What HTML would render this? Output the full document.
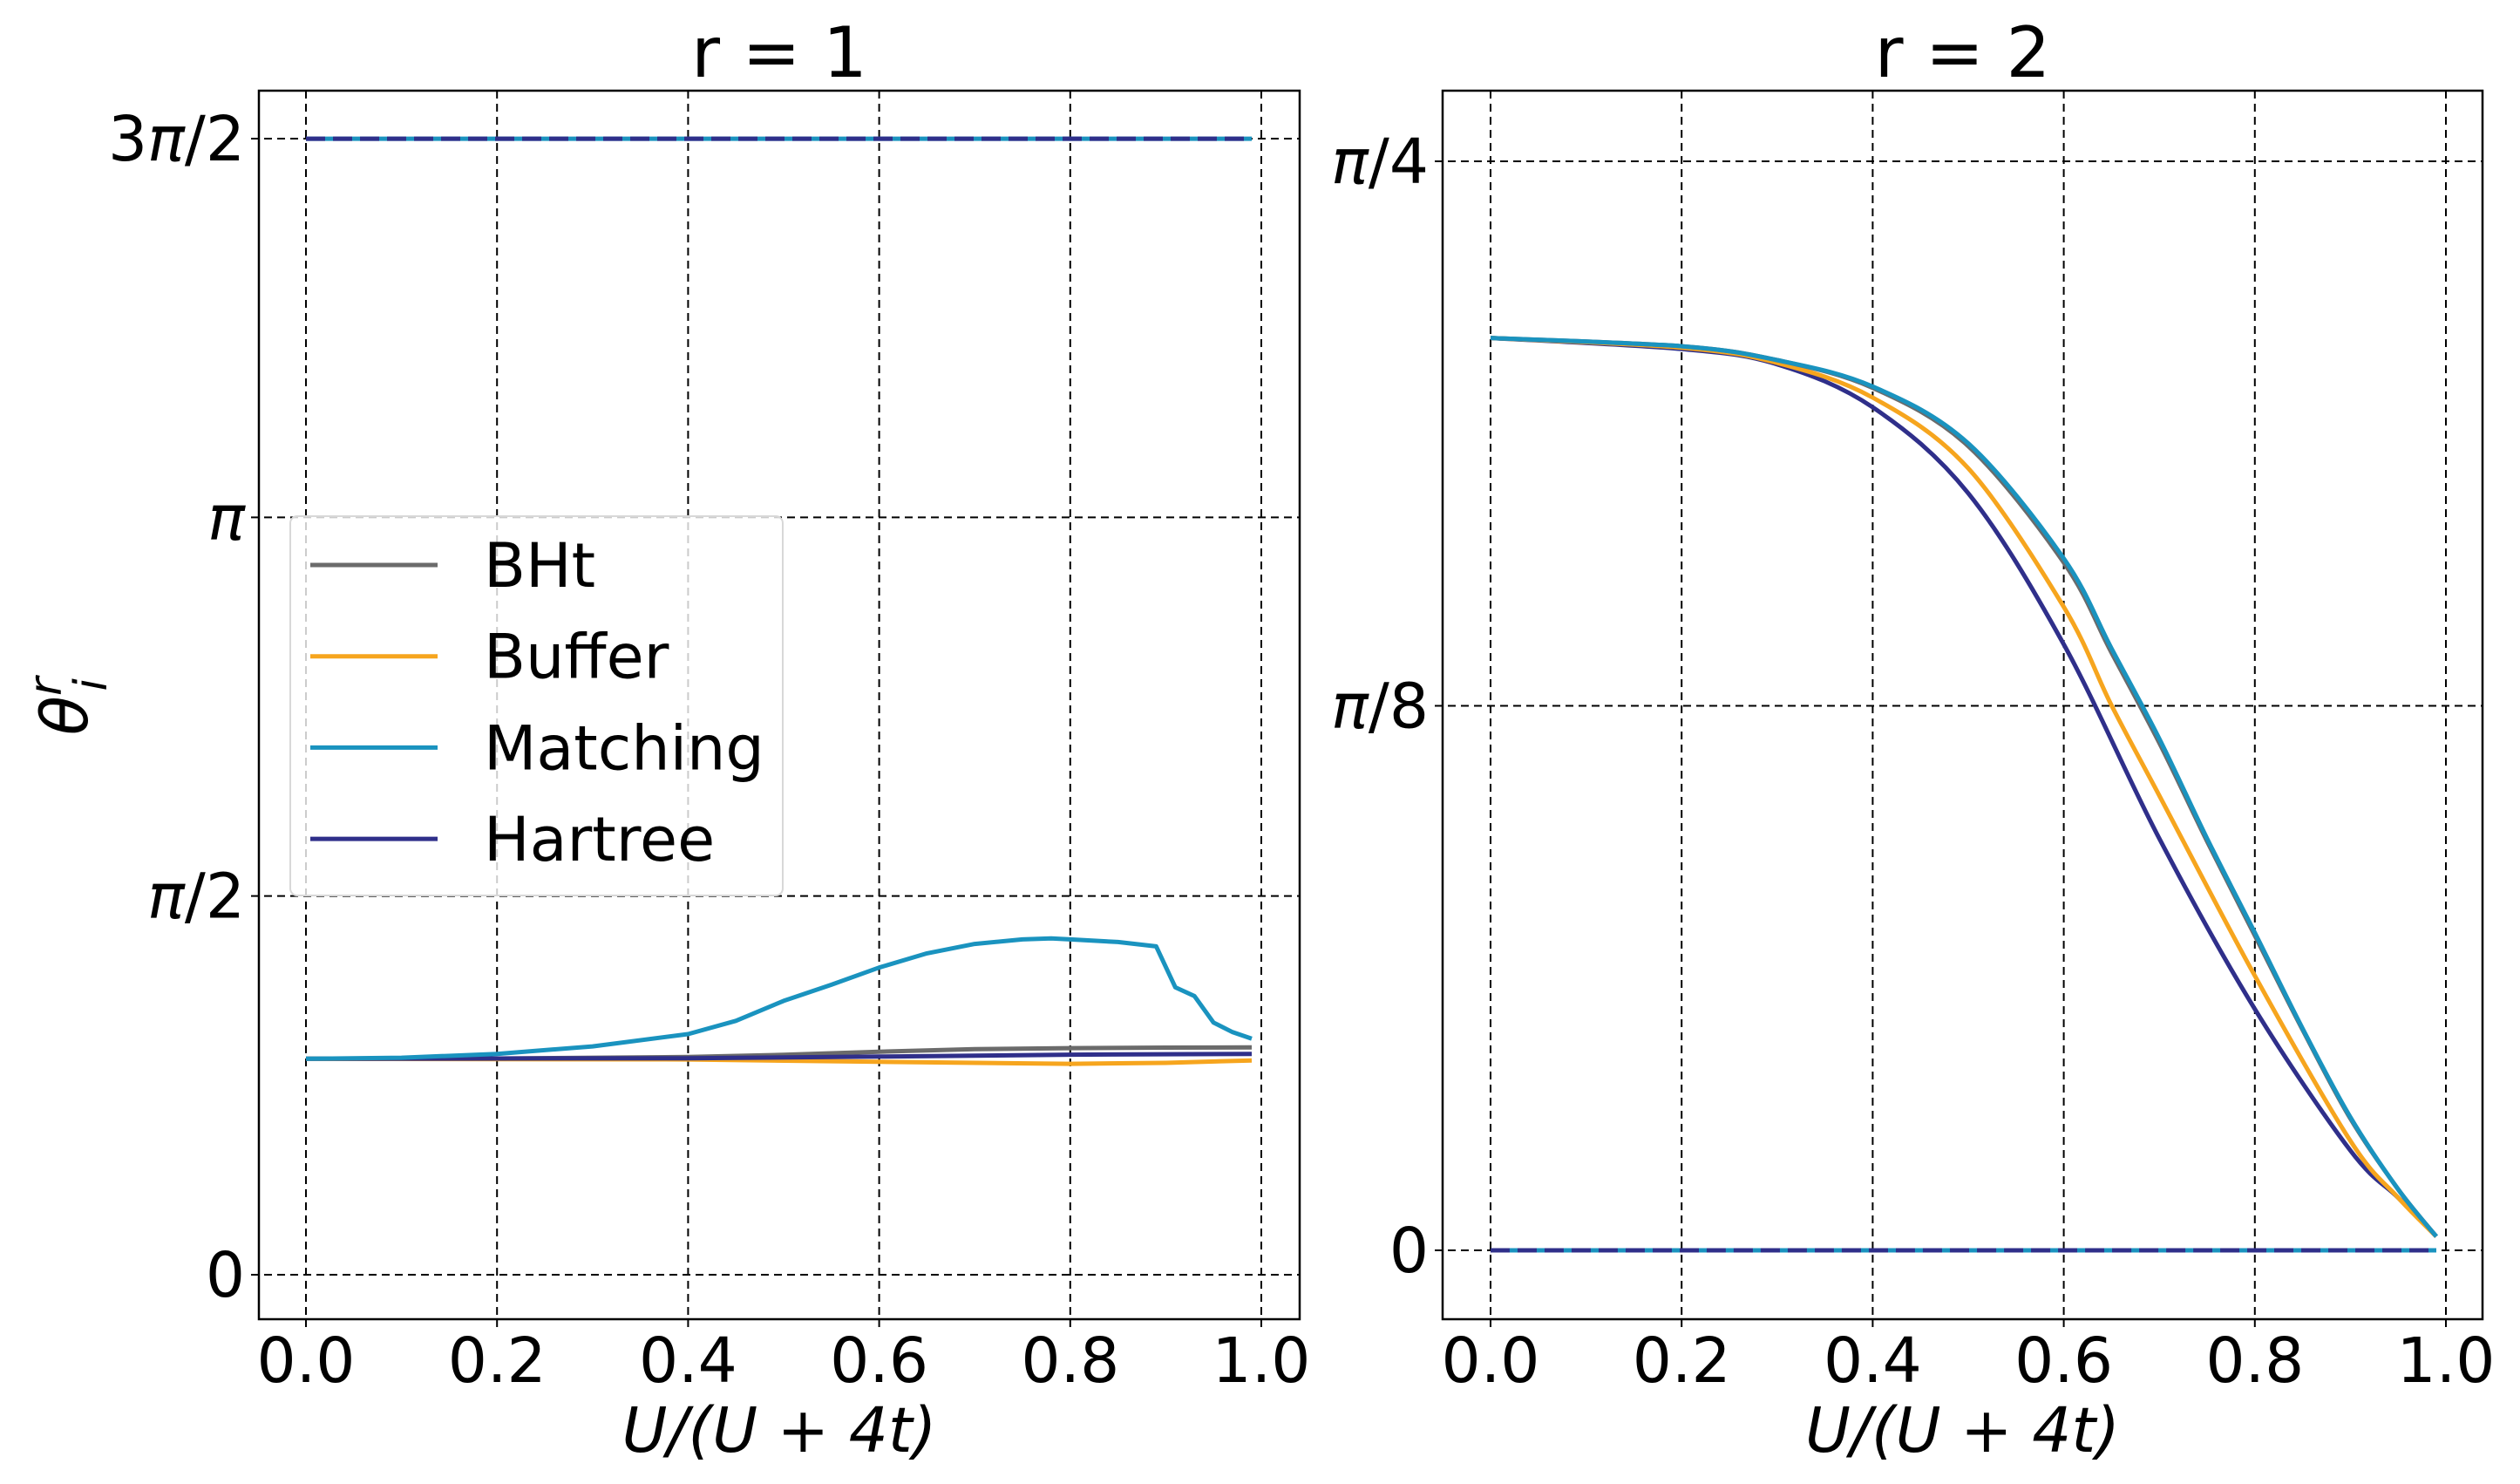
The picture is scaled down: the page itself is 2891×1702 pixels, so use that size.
<!DOCTYPE html>
<html><head><meta charset="utf-8">
<style>
html,body{margin:0;padding:0;background:#fff;}
svg{display:block;}
text{font-family:"DejaVu Sans","Liberation Sans",sans-serif;fill:#000;}
</style></head>
<body>
<svg id="chart" width="2891" height="1702" viewBox="0 0 2891 1702" xmlns="http://www.w3.org/2000/svg"></svg>
<script>
// ---- data: panel r = 1 ----
const r1MatchX = [0,0.1,0.2,0.3,0.4,0.45,0.5,0.55,0.6,0.65,0.7,0.75,0.78,0.8,0.85,0.89,0.91,0.93,0.95,0.97,0.99];
const r1MatchY = [0.896,0.900,0.916,0.947,0.998,1.053,1.136,1.203,1.274,1.333,1.372,1.391,1.395,1.391,1.380,1.362,1.192,1.156,1.046,1.006,0.979];
const r1BhtX = [0,0.2,0.4,0.5,0.6,0.7,0.8,0.9,0.99];
const r1BhtY = [0.896,0.897,0.903,0.912,0.925,0.936,0.940,0.942,0.943];
const r1HartX = [0,0.4,0.6,0.8,0.99];
const r1HartY = [0.896,0.898,0.905,0.913,0.916];
const r1BufX = [0,0.4,0.6,0.8,0.9,0.99];
const r1BufY = [0.896,0.893,0.883,0.875,0.879,0.889];
const r1TopX = [0,0.99];
const r1TopY = [4.712,4.712];
// ---- data: panel r = 2 ----
const r2MatchX = [0,0.2,0.3,0.4,0.5,0.6,0.65,0.7,0.75,0.8,0.85,0.9,0.95,0.99];
const r2MatchY = [0.658,0.652,0.642,0.623,0.582,0.499,0.434,0.369,0.297,0.229,0.160,0.096,0.044,0.010];
const r2BhtY = [0.658,0.652,0.642,0.622,0.580,0.496,0.431,0.366,0.295,0.227,0.159,0.095,0.044,0.010];
const r2BufX = [0,0.2,0.3,0.4,0.5,0.6,0.65,0.7,0.8,0.9,0.95,0.99];
const r2BufY = [0.658,0.651,0.640,0.615,0.564,0.464,0.393,0.328,0.198,0.079,0.038,0.010];
const r2HartX = [0,0.2,0.3,0.4,0.5,0.6,0.7,0.8,0.9,0.95,0.99];
const r2HartY = [0.658,0.650,0.639,0.608,0.546,0.437,0.297,0.174,0.072,0.038,0.010];
const r2ZeroX = [0,0.99];
const r2ZeroY = [0,0];
const xTicks = [0,0.2,0.4,0.6,0.8,1.0];
const xTickLabels = ["0.0","0.2","0.4","0.6","0.8","1.0"];
const r1YTicks = [0, Math.PI/2, Math.PI, 3*Math.PI/2];
const r1YTickLabels = ["0","<tspan font-style='italic'>π</tspan>/2","<tspan font-style='italic'>π</tspan>","3<tspan font-style='italic'>π</tspan>/2"];
const r2YTicks = [0, Math.PI/8, Math.PI/4];
const r2YTickLabels = ["0","<tspan font-style='italic'>π</tspan>/8","<tspan font-style='italic'>π</tspan>/4"];
const legendNames = ["BHt","Buffer","Matching","Hartree"];

const C = {bht:"#6b6b6b", buf:"#f6a51e", match:"#1a93bf", hart:"#2f2f8a"};
const NS = "http://www.w3.org/2000/svg";
const svg = document.getElementById("chart");
function mk(tag, attrs, parent){
  const e = document.createElementNS(NS, tag);
  for (const k in attrs) e.setAttribute(k, attrs[k]);
  (parent||svg).appendChild(e);
  return e;
}
function smoothPath(pts){
  let d = "M"+pts[0][0].toFixed(1)+","+pts[0][1].toFixed(1);
  for (let i=0;i<pts.length-1;i++){
    const p0 = pts[Math.max(i-1,0)], p1 = pts[i], p2 = pts[i+1], p3 = pts[Math.min(i+2,pts.length-1)];
    const c1x = p1[0]+(p2[0]-p0[0])/6, c1y = p1[1]+(p2[1]-p0[1])/6;
    const c2x = p2[0]-(p3[0]-p1[0])/6, c2y = p2[1]-(p3[1]-p1[1])/6;
    d += " C"+c1x.toFixed(1)+","+c1y.toFixed(1)+" "+c2x.toFixed(1)+","+c2y.toFixed(1)+" "+p2[0].toFixed(1)+","+p2[1].toFixed(1);
  }
  return d;
}
function panel(p){
  const g = mk("g", {});
  
  
  const sx = v => p.x0 + (p.x1 - p.x0) * v;
  const sy = v => p.yA + (p.yB - p.yA) * (v - p.vA) / (p.vB - p.vA);
  xTicks.forEach((t,i)=>{
    const l = mk("line",{x1:sx(t),x2:sx(t),y1:p.top,y2:p.bottom+9,stroke:"#000","stroke-width":2,"stroke-dasharray":"9,6"},g);
    
    
    const tx = mk("text",{x:sx(t),y:1585,"font-size":71,"text-anchor":"middle"},g);
    tx.textContent = xTickLabels[i];
    
    
  });
  p.yTicks.forEach((t,i)=>{
    const l = mk("line",{x1:p.left-9,x2:p.right,y1:sy(t),y2:sy(t),stroke:"#000","stroke-width":2,"stroke-dasharray":"9,6"},g);
    
    
    const tx = mk("text",{x:p.left-16,y:sy(t)+25,"font-size":71,"text-anchor":"end"},g);
    tx.innerHTML = p.yLabels[i];
    
    
  });
  p.series.forEach(s=>{
    const pts = s.x.map((x,i)=>[sx(x), sy(s.y[i])]);
    const d = p.smooth ? smoothPath(pts) : pts.map((q,i)=>(i?"L":"M")+q[0].toFixed(1)+","+q[1].toFixed(1)).join(" ");
    const a = {d:d,fill:"none",stroke:s.c,"stroke-width":5,"stroke-linejoin":"round"};
    if (s.dash) a["stroke-dasharray"] = s.dash;
    const path = mk("path",a,g);
    
    
  });
  const fr = mk("rect",{x:p.left,y:p.top,width:p.right-p.left,height:p.bottom-p.top,fill:"none",stroke:"#000","stroke-width":2.5},g);
  
  
  const ti = mk("text",{x:(p.left+p.right)/2,y:88,"font-size":80,"text-anchor":"middle"},g);
  ti.textContent = p.title;
  
  
  const xl = mk("text",{x:(p.left+p.right)/2,y:1665,"font-size":71,"text-anchor":"middle","font-style":"italic"},g);
  xl.textContent = "U/(U + 4t)";
  
  
  return g;
}
panel({name:"panel-r1", title:"r = 1", left:297, right:1491, top:104, bottom:1513,
  x0:351, x1:1447, vA:0, yA:1462, vB:3*Math.PI/2, yB:159, smooth:false,
  yTicks:r1YTicks, yLabels:r1YTickLabels,
  series:[
    {n:"bht-line-r1",x:r1BhtX,y:r1BhtY,c:C.bht},
    {n:"buffer-line-r1",x:r1BufX,y:r1BufY,c:C.buf},
    {n:"hartree-line-r1",x:r1HartX,y:r1HartY,c:C.hart},
    {n:"matching-line-r1",x:r1MatchX,y:r1MatchY,c:C.match},
    {n:"top-matching-line-r1",x:r1TopX,y:r1TopY,c:C.match},
    {n:"top-hartree-line-r1",x:r1TopX,y:r1TopY,c:C.hart,dash:"22,9"}
  ]});
panel({name:"panel-r2", title:"r = 2", left:1655, right:2848, top:104, bottom:1513,
  x0:1710, x1:2806, vA:0, yA:1434, vB:Math.PI/4, yB:185, smooth:true,
  yTicks:r2YTicks, yLabels:r2YTickLabels,
  series:[
    {n:"hartree-line-r2",x:r2HartX,y:r2HartY,c:C.hart},
    {n:"buffer-line-r2",x:r2BufX,y:r2BufY,c:C.buf},
    {n:"bht-line-r2",x:r2MatchX,y:r2BhtY,c:C.bht},
    {n:"matching-line-r2",x:r2MatchX,y:r2MatchY,c:C.match},
    {n:"zero-matching-line-r2",x:r2ZeroX,y:r2ZeroY,c:C.match},
    {n:"zero-hartree-line-r2",x:r2ZeroX,y:r2ZeroY,c:C.hart,dash:"22,9"}
  ]});
const yt = mk("text",{x:0,y:0,"font-size":74,"text-anchor":"middle","font-style":"italic",transform:"translate(100,810) rotate(-90)"});


yt.innerHTML = 'θ<tspan font-size="52" dy="-30">r</tspan><tspan font-size="52" dx="-16" dy="52">i</tspan>';
const lg = mk("g",{});


const lb = mk("rect",{x:333,y:592,width:565,height:435,rx:8,fill:"rgba(255,255,255,0.8)",stroke:"#d8d8d8","stroke-width":2},lg);


const legCols = [C.bht,C.buf,C.match,C.hart];
legendNames.forEach((nm,i)=>{
  const y = 648 + i*104.7;
  const ln = mk("line",{x1:356,x2:502,y1:y,y2:y,stroke:legCols[i],"stroke-width":5},lg);
  
  
  const t = mk("text",{x:555,y:y+25,"font-size":70},lg);
  t.textContent = nm;
  
  
});
</script>
</body></html>
